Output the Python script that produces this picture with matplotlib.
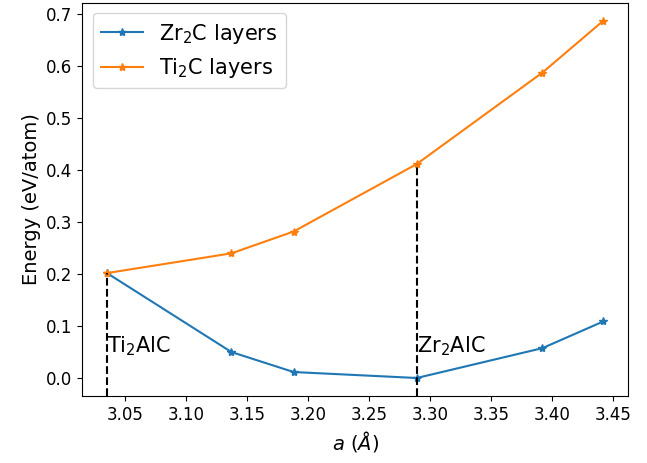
import matplotlib
matplotlib.use("Agg")
import matplotlib.pyplot as plt

## Data
a_lattice = [3.035, 3.137, 3.188, 3.289, 3.392, 3.442]
e_zr2c = [0.202, 0.050, 0.0115, 0.0, 0.0575, 0.109]
e_ti2c = [0.202, 0.240, 0.282, 0.412, 0.588, 0.688]

# Reference compounds: lattice parameter and height of the dashed marker
ref_names = ['Ti$_2$AlC', 'Zr$_2$AlC']
ref_a = [3.035, 3.289]
ref_top = [0.202, 0.412]
label_y = 0.05

fig = plt.figure(figsize=[6.47, 4.63], dpi=100)
ax = fig.add_axes([0.127, 0.145, 0.844, 0.849])

ax.plot(a_lattice, e_zr2c, marker='*', color='#1f77b4', label='Zr$_2$C layers')
ax.plot(a_lattice, e_ti2c, marker='*', color='#ff7f0e', label='Ti$_2$C layers')

# Dashed lines from the floor of the axes up to the curve
ylim = ax.get_ylim()
ax.vlines(ref_a, ylim[0], ref_top, colors='black', linestyles='--', linewidth=1.5)
ax.set_ylim(ylim)

for name, xa in zip(ref_names, ref_a):
    ax.text(xa, label_y, name, fontsize=15, ha='left', va='baseline')

ax.set_xlabel('$a$ ($\\AA$)', fontsize=14)
ax.set_ylabel('Energy (eV/atom)', fontsize=14)
ax.tick_params(labelsize=12)
ax.legend(loc='upper left', fontsize=15)

fig.savefig('out.png', dpi=100)
